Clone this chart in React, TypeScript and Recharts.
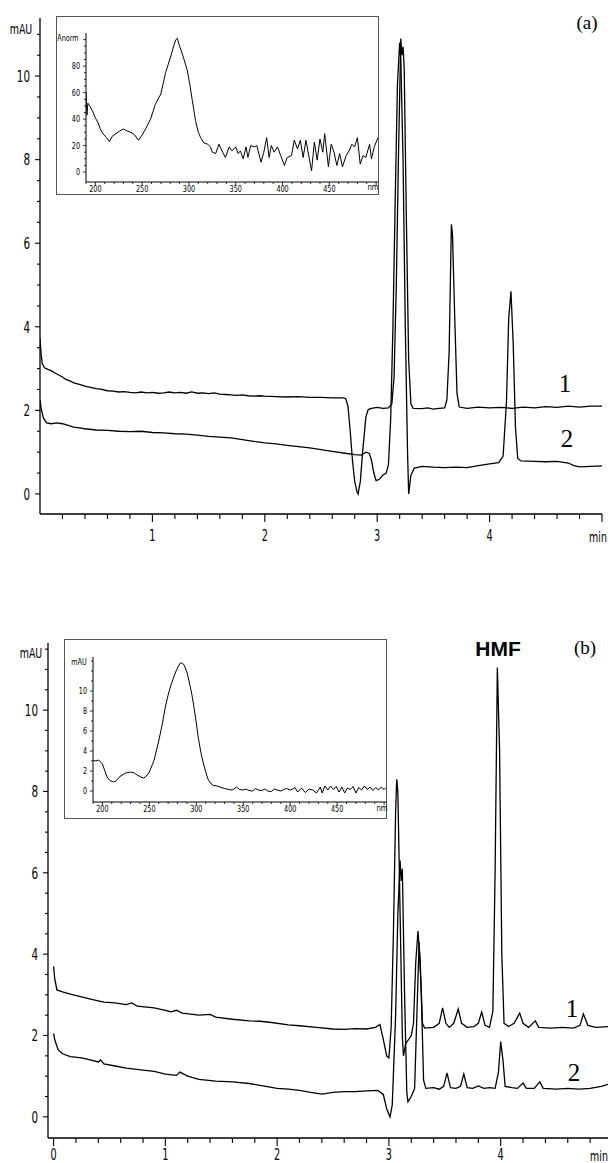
import React from 'react';
import { LineChart, Line, XAxis, YAxis } from 'recharts';

// ---------- DATA ----------
// Panel (a) chromatograms: [time (min), absorbance (mAU)]
const chromA1: [number, number][] = [
  [0, 3.72], [0.01, 3.35], [0.02, 3.12], [0.04, 3.02], [0.07, 2.98], [0.1, 2.95], [0.13, 2.9], [0.17, 2.84],
  [0.2, 2.8], [0.23, 2.74], [0.27, 2.7], [0.3, 2.66], [0.35, 2.62], [0.4, 2.58], [0.45, 2.55], [0.5, 2.52],
  [0.55, 2.5], [0.6, 2.47], [0.65, 2.46], [0.7, 2.44], [0.75, 2.45], [0.8, 2.43], [0.85, 2.42], [0.9, 2.44],
  [0.95, 2.42], [1.0, 2.43], [1.05, 2.41], [1.1, 2.42], [1.15, 2.44], [1.2, 2.42], [1.25, 2.43], [1.3, 2.41],
  [1.35, 2.44], [1.4, 2.41], [1.45, 2.42], [1.5, 2.4], [1.55, 2.42], [1.6, 2.39], [1.65, 2.38], [1.7, 2.37],
  [1.75, 2.36], [1.8, 2.37], [1.85, 2.35], [1.9, 2.34], [1.95, 2.35], [2.0, 2.34], [2.1, 2.33], [2.2, 2.32],
  [2.3, 2.33], [2.4, 2.31], [2.5, 2.31], [2.6, 2.3], [2.7, 2.3], [2.72, 2.28], [2.74, 2.1], [2.76, 1.5],
  [2.78, 0.8], [2.8, 0.3], [2.82, 0.05], [2.83, 0.0], [2.85, 0.3], [2.87, 1.0], [2.9, 1.85], [2.92, 2.02],
  [2.95, 2.05], [3.0, 2.07], [3.05, 2.05], [3.1, 2.06], [3.13, 2.15], [3.15, 2.8], [3.17, 5.0], [3.19, 8.2],
  [3.21, 10.9], [3.22, 10.5], [3.23, 10.7], [3.24, 10.2], [3.26, 6.5], [3.28, 3.2], [3.3, 2.15], [3.32, 2.05],
  [3.4, 2.04], [3.45, 2.06], [3.5, 2.03], [3.55, 2.05], [3.6, 2.06], [3.62, 2.25], [3.64, 3.4], [3.66, 6.45],
  [3.67, 6.2], [3.69, 4.2], [3.71, 2.4], [3.73, 2.08], [3.8, 2.05], [3.9, 2.08], [4.0, 2.06], [4.1, 2.07],
  [4.2, 2.05], [4.3, 2.08], [4.4, 2.06], [4.5, 2.09], [4.6, 2.07], [4.7, 2.1], [4.8, 2.08], [4.9, 2.1], [5.0, 2.1],
];
const chromA2: [number, number][] = [
  [0, 2.25], [0.01, 2.05], [0.03, 1.82], [0.06, 1.7], [0.1, 1.68], [0.15, 1.7], [0.2, 1.68], [0.25, 1.64],
  [0.3, 1.6], [0.35, 1.58], [0.4, 1.56], [0.5, 1.53], [0.6, 1.52], [0.7, 1.5], [0.8, 1.49], [0.9, 1.5],
  [1.0, 1.47], [1.1, 1.46], [1.2, 1.44], [1.3, 1.43], [1.4, 1.41], [1.5, 1.38], [1.6, 1.36], [1.7, 1.34],
  [1.8, 1.3], [1.9, 1.26], [2.0, 1.22], [2.1, 1.2], [2.2, 1.16], [2.3, 1.13], [2.4, 1.1], [2.5, 1.06],
  [2.6, 1.02], [2.7, 0.98], [2.8, 0.94], [2.86, 0.93], [2.9, 1.0], [2.93, 0.97], [2.95, 0.8], [2.97, 0.5],
  [2.99, 0.32], [3.02, 0.35], [3.05, 0.45], [3.08, 0.5], [3.1, 0.7], [3.12, 1.8], [3.14, 4.0], [3.16, 7.0],
  [3.18, 9.8], [3.2, 10.8], [3.21, 10.4], [3.23, 8.0], [3.25, 4.0], [3.27, 1.0], [3.28, 0.0], [3.3, 0.45],
  [3.33, 0.62], [3.4, 0.66], [3.5, 0.64], [3.6, 0.63], [3.7, 0.64], [3.8, 0.63], [3.9, 0.68], [4.0, 0.72],
  [4.08, 0.75], [4.12, 0.9], [4.15, 2.2], [4.17, 4.2], [4.19, 4.85], [4.21, 3.6], [4.23, 1.6], [4.25, 0.85],
  [4.28, 0.79], [4.4, 0.78], [4.5, 0.77], [4.6, 0.78], [4.7, 0.74], [4.75, 0.68], [4.8, 0.65], [4.9, 0.66], [5.0, 0.67],
];

// Panel (b) chromatograms
const chromB1: [number, number][] = [
  [0, 3.7], [0.01, 3.4], [0.03, 3.12], [0.08, 3.07], [0.15, 3.02], [0.25, 2.95], [0.35, 2.88], [0.45, 2.82],
  [0.55, 2.8], [0.65, 2.76], [0.7, 2.8], [0.75, 2.72], [0.9, 2.68], [1.0, 2.62], [1.05, 2.58], [1.1, 2.62],
  [1.15, 2.55], [1.3, 2.5], [1.4, 2.52], [1.45, 2.45], [1.6, 2.4], [1.75, 2.36], [1.85, 2.35], [1.95, 2.32],
  [2.1, 2.26], [2.2, 2.24], [2.35, 2.2], [2.5, 2.16], [2.6, 2.15], [2.7, 2.17], [2.8, 2.16], [2.88, 2.2],
  [2.92, 2.27], [2.95, 1.9], [2.98, 1.5], [3.0, 1.45], [3.02, 2.2], [3.04, 4.5], [3.06, 7.5], [3.07, 8.3],
  [3.08, 8.0], [3.1, 5.0], [3.12, 2.0], [3.13, 1.5], [3.15, 1.8], [3.2, 2.0], [3.22, 2.3], [3.24, 3.8],
  [3.26, 4.57], [3.28, 3.8], [3.3, 2.3], [3.32, 2.18], [3.4, 2.2], [3.45, 2.3], [3.48, 2.68], [3.51, 2.3],
  [3.54, 2.2], [3.58, 2.3], [3.62, 2.65], [3.65, 2.3], [3.7, 2.2], [3.76, 2.22], [3.8, 2.3], [3.83, 2.58],
  [3.86, 2.25], [3.9, 2.2], [3.93, 2.6], [3.95, 6.0], [3.97, 11.05], [3.99, 9.0], [4.01, 4.0], [4.03, 2.3],
  [4.07, 2.22], [4.12, 2.3], [4.17, 2.55], [4.2, 2.3], [4.25, 2.2], [4.31, 2.36], [4.34, 2.2], [4.45, 2.18],
  [4.55, 2.2], [4.65, 2.18], [4.71, 2.25], [4.74, 2.53], [4.78, 2.25], [4.85, 2.2], [4.96, 2.22],
];
const chromB2: [number, number][] = [
  [0, 2.05], [0.01, 1.9], [0.04, 1.65], [0.08, 1.55], [0.15, 1.48], [0.25, 1.45], [0.3, 1.42], [0.4, 1.35],
  [0.42, 1.4], [0.45, 1.3], [0.55, 1.25], [0.65, 1.2], [0.8, 1.15], [0.9, 1.12], [1.0, 1.05], [1.1, 1.02],
  [1.13, 1.1], [1.2, 1.0], [1.3, 0.92], [1.45, 0.88], [1.6, 0.86], [1.75, 0.82], [1.9, 0.75], [2.0, 0.7],
  [2.1, 0.68], [2.2, 0.65], [2.3, 0.6], [2.4, 0.56], [2.5, 0.6], [2.6, 0.62], [2.7, 0.62], [2.8, 0.64],
  [2.9, 0.65], [2.95, 0.55], [2.98, 0.2], [3.01, 0.0], [3.03, 0.3], [3.06, 2.5], [3.08, 5.0], [3.1, 6.3],
  [3.11, 5.8], [3.12, 6.1], [3.14, 3.0], [3.16, 0.6], [3.17, 0.37], [3.2, 0.5], [3.23, 0.7], [3.25, 2.5],
  [3.27, 4.3], [3.29, 3.0], [3.31, 0.9], [3.33, 0.7], [3.4, 0.72], [3.45, 0.68], [3.49, 0.75], [3.52, 1.08],
  [3.55, 0.72], [3.6, 0.7], [3.64, 0.75], [3.67, 1.05], [3.7, 0.72], [3.75, 0.7], [3.8, 0.76], [3.85, 0.7],
  [3.9, 0.72], [3.95, 0.7], [3.98, 1.1], [4.0, 1.85], [4.02, 1.4], [4.04, 0.75], [4.1, 0.72], [4.15, 0.7],
  [4.2, 0.83], [4.23, 0.7], [4.3, 0.7], [4.35, 0.86], [4.38, 0.7], [4.5, 0.68], [4.6, 0.7], [4.7, 0.68],
  [4.8, 0.7], [4.9, 0.75], [4.96, 0.8],
];

// Inset spectra: [wavelength (nm), absorbance]
const spectrumA: [number, number][] = [
  [190, 60], [191, 43], [192, 52], [194, 50], [197, 46], [200, 41], [203, 37], [205, 33], [208, 29], [212, 26],
  [215, 23], [218, 27], [222, 29], [226, 31], [230, 32.5], [234, 31], [238, 30], [242, 28], [246, 24], [250, 28],
  [254, 33], [259, 40], [264, 51], [270, 59], [275, 75], [280, 86], [284, 96], [286, 100], [287.5, 101], [290, 95],
  [293, 89], [298, 77.5], [301, 66], [303.6, 54], [307, 39], [310, 30], [312.5, 26], [316, 22], [320, 21], [323, 19],
  [325, 15], [328.6, 14], [332, 21], [336, 15], [339, 11], [343, 19], [346, 16], [350, 19], [352.5, 14], [355, 16],
  [358, 10], [361, 19], [363, 11], [366, 20], [370, 19], [372.5, 20], [377, 7.5], [380, 15], [383, 26], [385.7, 11],
  [388, 20], [391, 15], [394.6, 19], [398, 12.5], [402, 5], [405, 11], [409.6, 12.5], [412.5, 24], [416, 17.5], [419, 24],
  [422, 11], [425, 24], [428.6, 10], [431, 1], [434, 22.5], [437, 9], [440, 25], [443, 15], [445, 29], [449, 4],
  [452, 21], [455, 15], [458, 5], [461, 14], [464, 4], [468, 12.5], [471, 16], [474, 21], [477, 19], [480, 26],
  [483, 6], [486, 12.5], [489, 11], [493, 21], [495, 10], [498, 19], [502, 26],
];
const spectrumB: [number, number][] = [
  [190, 3.07], [193, 3.0], [196, 3.1], [200, 2.7], [205, 1.4], [208, 1.05], [212, 0.9], [215, 1.05], [218, 1.4],
  [222, 1.65], [225, 1.8], [230, 1.9], [234, 1.8], [237, 1.6], [241, 1.4], [244, 1.3], [247, 1.5], [250, 1.9],
  [255, 3.07], [260, 5.0], [264, 6.8], [267, 8.4], [270, 9.6], [273, 10.6], [276, 11.4], [278, 11.9], [281, 12.5],
  [283, 12.8], [285, 12.8], [287, 12.6], [290, 11.9], [292, 11.1], [295, 9.8], [297, 8.7], [300, 6.8], [302, 5.4],
  [305, 3.8], [308, 2.6], [311, 1.6], [313, 1.07], [316, 0.7], [318, 0.57], [322, 0.5], [325, 0.4], [330, 0.25],
  [334, 0.17], [338, 0.1], [340, 0.2], [343, 0.4], [346, 0.15], [350, 0.1], [353, 0.2], [356, 0.05], [360, 0.0],
  [363, 0.25], [366, 0.1], [370, 0.05], [373, 0.2], [376, 0.0], [380, -0.05], [383, 0.2], [386, 0.1], [390, 0.0],
  [393, 0.15], [396, 0.25], [400, 0.1], [403, 0.2], [405, 0.35], [408, -0.1], [412, 0.3], [416, -0.15], [420, 0.2],
  [424, 0.1], [428, -0.2], [432, 0.4], [434, -0.2], [437, 0.5], [440, 0.1], [443, 0.5], [446, 0.15], [449, 0.45],
  [452, -0.1], [455, 0.4], [458, -0.2], [461, 0.3], [464, 0.15], [467, 0.45], [470, -0.2], [473, 0.35], [476, 0.1],
  [479, 0.5], [482, 0.15], [485, 0.4], [488, 0.05], [491, 0.35], [494, 0.1], [497, 0.4], [500, 0.15], [502, 0.35],
];

// Tick labels
const mainYLabels = [0, 2, 4, 6, 8, 10];
const mainXLabelsA = [1, 2, 3, 4];
const mainXLabelsB = [0, 1, 2, 3, 4];
const insetXLabels = [200, 250, 300, 350, 400, 450];
const insetYLabelsA = [0, 20, 40, 60, 80];
const insetYLabelsB = [0, 2, 4, 6, 8, 10];

// ---------- HELPERS ----------
const NARROW = "'Liberation Sans Narrow', 'DejaVu Sans Condensed', 'Liberation Sans', sans-serif";
const SERIF = "'Liberation Serif', 'DejaVu Serif', serif";
const SANS = "'Liberation Sans', Arial, sans-serif";

const toPts = (arr: [number, number][]) => arr.map(([t, v]) => ({ t, v }));
const steps = (from: number, to: number, step: number) => {
  const out: number[] = [];
  const n = Math.round((to - from) / step);
  for (let i = 0; i <= n; i++) out.push(Math.round((from + i * step) * 1000) / 1000);
  return out;
};
const has = (arr: number[], v: number) => arr.some((a) => Math.abs(a - v) < 1e-6);

type TickCfg = {
  majors: number[];
  labels: number[];
  majorLen: number;
  minorLen: number;
  labelGap: number;
  fontSize: number;
  sw: number;
  sx: number;
};

const xTick = (cfg: TickCfg) => (props: any) => {
  const { x, y, payload } = props;
  const v = payload.value;
  const major = has(cfg.majors, v);
  return (
    <g>
      <line x1={x} x2={x} y1={y} y2={y + (major ? cfg.majorLen : cfg.minorLen)} stroke="#000" strokeWidth={cfg.sw} />
      {has(cfg.labels, v) && (
        <text transform={`translate(${x},${y + cfg.labelGap}) scale(${cfg.sx},1)`} x={0} y={0} textAnchor="middle" dominantBaseline="central" fontSize={cfg.fontSize} fontFamily={NARROW} fill="#000">
          {String(v)}
        </text>
      )}
    </g>
  );
};

const yTick = (cfg: TickCfg) => (props: any) => {
  const { x, y, payload } = props;
  const v = payload.value;
  const major = has(cfg.majors, v);
  return (
    <g>
      <line x1={x} x2={x - (major ? cfg.majorLen : cfg.minorLen)} y1={y} y2={y} stroke="#000" strokeWidth={cfg.sw} />
      {has(cfg.labels, v) && (
        <text transform={`translate(${x - cfg.labelGap},${y}) scale(${cfg.sx},1)`} x={0} y={0} textAnchor="end" dominantBaseline="central" fontSize={cfg.fontSize} fontFamily={NARROW} fill="#000">
          {String(v)}
        </text>
      )}
    </g>
  );
};

const Txt = ({ x, y, size, family, weight, sx, children }: any) => (
  <div
    style={{
      position: 'absolute', left: x, top: y, transform: `translate(-50%, -50%) scaleX(${sx || 1})`, fontSize: size,
      fontFamily: family, fontWeight: weight || 'normal', lineHeight: 1, whiteSpace: 'nowrap', color: '#000',
    }}
  >
    {children}
  </div>
);

const lineProps = { dataKey: 'v', stroke: '#000', dot: false, isAnimationActive: false, type: 'linear' as const };

// ---------- MAIN PANEL ----------
const MainPanel = ({ top, height, margin, yWidth, xDomain, yDomain, xTicks, xLabels, yTicks, labelGap, t1, t2 }: any) => (
  <div style={{ position: 'absolute', left: 0, top, width: 610, height }}>
    <LineChart width={610} height={height} margin={margin}>
      <XAxis
        type="number" dataKey="t" domain={xDomain} allowDataOverflow ticks={xTicks} interval={0}
        tickSize={0} tickMargin={0} tickLine={false} height={24}
        axisLine={{ stroke: '#000', strokeWidth: 1.6 }}
        tick={xTick({ majors: [0, 1, 2, 3, 4, 5], labels: xLabels, majorLen: 8, minorLen: 5, labelGap, fontSize: 15, sw: 1.1, sx: 0.72 })}
      />
      <YAxis
        type="number" dataKey="v" domain={yDomain} allowDataOverflow ticks={yTicks} interval={0}
        tickSize={0} tickMargin={0} tickLine={false} width={yWidth}
        axisLine={{ stroke: '#000', strokeWidth: 1.3 }}
        tick={yTick({ majors: mainYLabels, labels: mainYLabels, majorLen: 5, minorLen: 3, labelGap: 10, fontSize: 16, sw: 1.1, sx: 0.72 })}
      />
      <Line data={toPts(t1)} {...lineProps} strokeWidth={1.3} />
      <Line data={toPts(t2)} {...lineProps} strokeWidth={1.3} />
    </LineChart>
  </div>
);

// ---------- INSET ----------
const Inset = ({ left, top, width, height, margin, yWidth, yDomain, yTicks, yMajors, yLabels, data }: any) => (
  <div style={{ position: 'absolute', left, top, width, height, background: '#fff', outline: '1px solid #555' }}>
    <LineChart width={width} height={height} margin={margin}>
      <XAxis
        type="number" dataKey="t" domain={[190, 502]} allowDataOverflow ticks={steps(190, 500, 10)} interval={0}
        tickSize={0} tickMargin={0} tickLine={false} height={margin.xh}
        axisLine={{ stroke: '#000', strokeWidth: 1 }}
        tick={xTick({ majors: [200, 250, 300, 350, 400, 450, 500], labels: insetXLabels, majorLen: 3, minorLen: 2, labelGap: 7, fontSize: 9, sw: 0.8, sx: 0.8 })}
      />
      <YAxis
        type="number" dataKey="v" domain={yDomain} allowDataOverflow ticks={yTicks} interval={0}
        tickSize={0} tickMargin={0} tickLine={false} width={yWidth}
        axisLine={{ stroke: '#000', strokeWidth: 1 }}
        tick={yTick({ majors: yMajors, labels: yLabels, majorLen: 3, minorLen: 2, labelGap: 6, fontSize: 9, sw: 0.8, sx: 0.8 })}
      />
      <Line data={toPts(data)} {...lineProps} strokeWidth={1} />
    </LineChart>
  </div>
);

export default function App() {
  return (
    <div style={{ position: 'absolute', left: 0, top: 0, width: 610, height: 1163, background: '#fff', overflow: 'hidden' }}>
      {/* Panel (a) */}
      <MainPanel
        top={0} height={560} margin={{ top: 18, right: 8, bottom: 22, left: 10 }} yWidth={30}
        xDomain={[0, 5]} yDomain={[-0.48, 11.39]}
        xTicks={steps(0.2, 5, 0.2)} xLabels={mainXLabelsA} yTicks={steps(0, 11, 0.5)} labelGap={22}
        t1={chromA1} t2={chromA2}
      />
      <Txt x={21} y={29} size={14} family={NARROW} sx={0.75}>mAU</Txt>
      <Txt x={598} y={537} size={14} family={NARROW} sx={0.75}>min</Txt>
      <Txt x={587} y={22} size={19} family={SERIF}>(a)</Txt>
      <Txt x={565} y={383} size={25} family={SERIF}>1</Txt>
      <Txt x={567} y={438} size={25} family={SERIF}>2</Txt>
      <Inset
        left={57} top={17} width={321} height={177} margin={{ top: 16, right: 0, bottom: 0, left: 9, xh: 12 }} yWidth={20}
        yDomain={[-7.5, 105]} yTicks={steps(0, 100, 5)} yMajors={[0, 20, 40, 60, 80, 100]} yLabels={insetYLabelsA}
        data={spectrumA}
      />
      <Txt x={68} y={38} size={8.5} family={NARROW} sx={0.85}>Anorm</Txt>
      <Txt x={373} y={187} size={9} family={NARROW} sx={0.85}>nm</Txt>

      {/* Panel (b) */}
      <MainPanel
        top={600} height={563} margin={{ top: 43, right: 2, bottom: 1, left: 18 }} yWidth={30}
        xDomain={[-0.05, 4.96]} yDomain={[-0.52, 11.65]}
        xTicks={steps(0, 4.8, 0.2)} xLabels={mainXLabelsB} yTicks={steps(0, 11.5, 0.5)} labelGap={17}
        t1={chromB1} t2={chromB2}
      />
      <Txt x={31} y={653} size={14} family={NARROW} sx={0.75}>mAU</Txt>
      <Txt x={599} y={1156} size={14} family={NARROW} sx={0.75}>min</Txt>
      <Txt x={498} y={648} size={21} family={SANS} weight="bold">HMF</Txt>
      <Txt x={585} y={647} size={19} family={SERIF}>(b)</Txt>
      <Txt x={572} y={1008} size={25} family={SERIF}>1</Txt>
      <Txt x={574} y={1072} size={25} family={SERIF}>2</Txt>
      <Inset
        left={65} top={640} width={321} height={178} margin={{ top: 17, right: 0, bottom: 0, left: 8, xh: 16 }} yWidth={20}
        yDomain={[-1.1, 13.4]} yTicks={steps(0, 13, 1)} yMajors={insetYLabelsB} yLabels={insetYLabelsB}
        data={spectrumB}
      />
      <Txt x={79} y={662} size={8.5} family={NARROW} sx={0.85}>mAU</Txt>
      <Txt x={382} y={808} size={9} family={NARROW} sx={0.85}>nm</Txt>
    </div>
  );
}
